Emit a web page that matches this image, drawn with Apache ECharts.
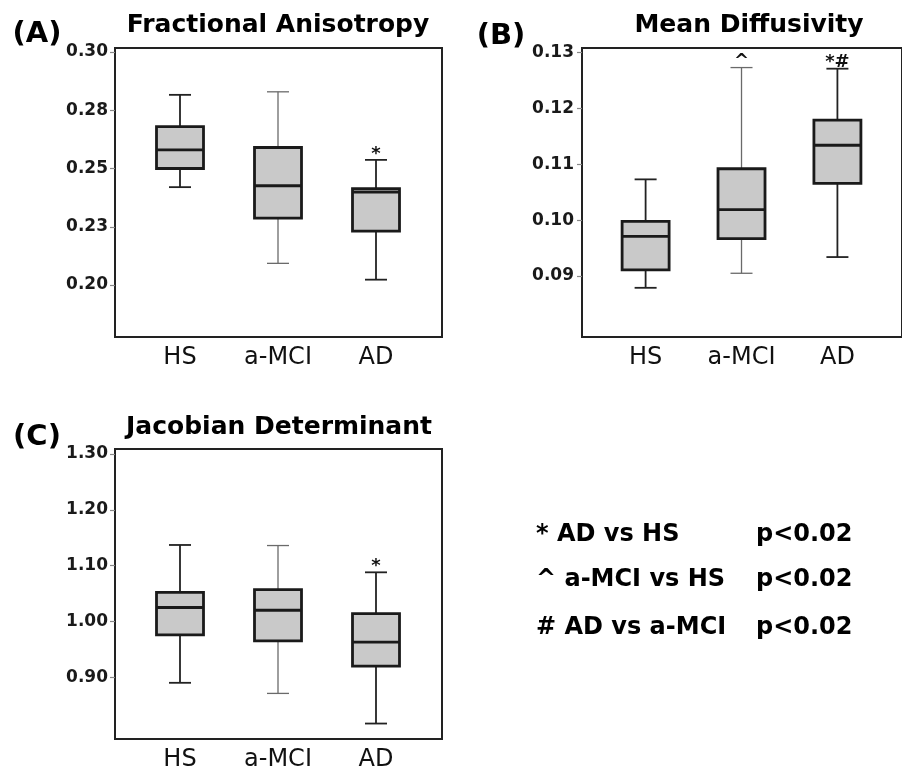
<!DOCTYPE html>
<html><head><meta charset="utf-8">
<script src="https://cdn.jsdelivr.net/npm/echarts@6/dist/echarts.min.js"></script>
<style>html,body{margin:0;padding:0;background:#fff}#c{width:902px;height:772px}</style>
</head><body><div id="c"></div>
<script>
const groups = ['HS', 'a-MCI', 'AD'];
// each: [low whisker, Q1, median, Q3, high whisker]
const faHS  = [0.2420, 0.2500, 0.2580, 0.2680, 0.2816];
const faMCI = [0.2093, 0.2287, 0.2426, 0.2590, 0.2829];
const faAD  = [0.2023, 0.2231, 0.2399, 0.2413, 0.2537];
const mdHS  = [0.0879, 0.0911, 0.0971, 0.0998, 0.1073];
const mdMCI = [0.0905, 0.0967, 0.1019, 0.1092, 0.1273];
const mdAD  = [0.0934, 0.1066, 0.1134, 0.1179, 0.1271];
const jdHS  = [0.890, 0.976, 1.025, 1.052, 1.137];
const jdMCI = [0.871, 0.965, 1.020, 1.057, 1.136];
const jdAD  = [0.817, 0.920, 0.963, 1.014, 1.088];
const faMarks = ['', '', '*'];
const mdMarks = ['', '^', '*#'];
const jdMarks = ['', '', '*'];
const faTicks = [0.200, 0.225, 0.250, 0.275, 0.300];
const faTickLabels = ['0.20', '0.23', '0.25', '0.28', '0.30'];
const mdTicks = [0.09, 0.10, 0.11, 0.12, 0.13];
const mdTickLabels = ['0.09', '0.10', '0.11', '0.12', '0.13'];
const jdTicks = [0.90, 1.00, 1.10, 1.20, 1.30];
const jdTickLabels = ['0.90', '1.00', '1.10', '1.20', '1.30'];
const faRange = [0.1777, 0.3017];
const mdRange = [0.0791, 0.1308];
const jdRange = [0.7893, 1.3090];
const panelTitles = ['Fractional Anisotropy', 'Mean Diffusivity', 'Jacobian Determinant'];
const panelLetters = ['(A)', '(B)', '(C)'];
const legendLeft = ['* AD vs HS', '^ a-MCI vs HS', '# AD vs a-MCI'];
const legendRight = ['p<0.02', 'p<0.02', 'p<0.02'];

const FONT = 'DejaVu Sans';
const chart = echarts.init(document.getElementById('c'), null, {renderer: 'canvas'});

function rows(a, b, c) { return [a, b, c].map((v, i) => [i + 1].concat(v)); }

function makeRender(marks) {
  return function (params, api) {
    const x = api.value(0);
    const p = k => api.coord([x, api.value(k)]);
    const lo = p(1), q1 = p(2), med = p(3), q3 = p(4), hi = p(5);
    const cx = lo[0];
    const bw = 47, cw = 22;
    const thin = params.dataIndex === 1;
    const ws = {stroke: thin ? '#6a6a6a' : '#222', lineWidth: thin ? 1.3 : 1.8};
    const bs = {stroke: '#1a1a1a', lineWidth: 2.8, fill: 'none'};
    return {
      type: 'group',
      children: [
        {type: 'line', shape: {x1: cx, y1: q3[1], x2: cx, y2: hi[1]}, style: ws},
        {type: 'line', shape: {x1: cx, y1: q1[1], x2: cx, y2: lo[1]}, style: ws},
        {type: 'line', shape: {x1: cx - cw / 2, y1: hi[1], x2: cx + cw / 2, y2: hi[1]}, style: ws},
        {type: 'line', shape: {x1: cx - cw / 2, y1: lo[1], x2: cx + cw / 2, y2: lo[1]}, style: ws},
        {type: 'rect', shape: {x: cx - bw / 2, y: q3[1], width: bw, height: q1[1] - q3[1]},
          style: {fill: '#c9c9c9', stroke: '#1a1a1a', lineWidth: 2.8}},
        {type: 'line', shape: {x1: cx - bw / 2, y1: med[1], x2: cx + bw / 2, y2: med[1]}, style: bs},
        {type: 'text', x: cx, y: hi[1] + 3,
          style: {text: marks[params.dataIndex], fontSize: 18, fontWeight: 'bold', fontFamily: FONT,
            fill: '#111', align: 'center', verticalAlign: 'bottom'}}
      ]
    };
  };
}

function xAxisFor(gi) {
  return {
    type: 'value', gridIndex: gi, min: 1 - 65 / 98, max: 3 + 66 / 98,
    axisLine: {show: false}, axisTick: {show: false}, splitLine: {show: false},
    axisLabel: {customValues: [1, 2, 3], formatter: v => groups[Math.round(v) - 1],
      fontSize: 24, fontFamily: FONT, color: '#111', margin: 9}
  };
}
function yAxisFor(gi, range, ticks, labels, margin) {
  return {
    type: 'value', gridIndex: gi, min: range[0], max: range[1],
    axisLine: {show: false}, splitLine: {show: false},
    axisTick: {show: true, customValues: ticks, length: 5, lineStyle: {color: '#888', width: 1.2}},
    axisLabel: {customValues: ticks, margin: margin, fontSize: 17, fontWeight: 'bold', fontFamily: FONT, color: '#1a1a1a',
      formatter: v => {
        let best = 0;
        ticks.forEach((t, i) => { if (Math.abs(t - v) < Math.abs(ticks[best] - v)) best = i; });
        return labels[best];
      }}
  };
}
const gridStyle = {show: true, borderColor: '#222', borderWidth: 2, backgroundColor: 'transparent'};

function txt(text, x, y, size, weight, align) {
  return {type: 'text', x: x, y: y, style: {text: text, fontSize: size, fontWeight: weight, fontFamily: FONT,
    fill: '#000', align: align || 'center', verticalAlign: 'middle'}};
}

const graphics = [
  txt(panelTitles[0], 278, 25, 25, 'bold'),
  txt(panelTitles[1], 749, 25, 25, 'bold'),
  txt(panelTitles[2], 279, 427, 25, 'bold'),
  txt(panelLetters[0], 37, 34, 29, 'bold'),
  txt(panelLetters[1], 501, 36, 29, 'bold'),
  txt(panelLetters[2], 37, 437, 29, 'bold')
];
[535, 580, 628].forEach((y, i) => {
  graphics.push(txt(legendLeft[i], 536, y, 24, 'bold', 'left'));
  graphics.push(txt(legendRight[i], 756, y, 24, 'bold', 'left'));
});

chart.setOption({
  animation: false,
  grid: [
    Object.assign({left: 115, top: 48, width: 327, height: 289}, gridStyle),
    Object.assign({left: 582, top: 48, width: 327, height: 289}, gridStyle),
    Object.assign({left: 115, top: 449, width: 327, height: 290}, gridStyle)
  ],
  xAxis: [xAxisFor(0), xAxisFor(1), xAxisFor(2)],
  yAxis: [
    yAxisFor(0, faRange, faTicks, faTickLabels, 7),
    yAxisFor(1, mdRange, mdTicks, mdTickLabels, 8),
    yAxisFor(2, jdRange, jdTicks, jdTickLabels, 7)
  ],
  series: [
    {type: 'custom', xAxisIndex: 0, yAxisIndex: 0, data: rows(faHS, faMCI, faAD), renderItem: makeRender(faMarks),
      encode: {x: 0, y: [1, 2, 3, 4, 5]}},
    {type: 'custom', xAxisIndex: 1, yAxisIndex: 1, data: rows(mdHS, mdMCI, mdAD), renderItem: makeRender(mdMarks),
      encode: {x: 0, y: [1, 2, 3, 4, 5]}},
    {type: 'custom', xAxisIndex: 2, yAxisIndex: 2, data: rows(jdHS, jdMCI, jdAD), renderItem: makeRender(jdMarks),
      encode: {x: 0, y: [1, 2, 3, 4, 5]}}
  ],
  graphic: graphics
});
</script></body></html>
